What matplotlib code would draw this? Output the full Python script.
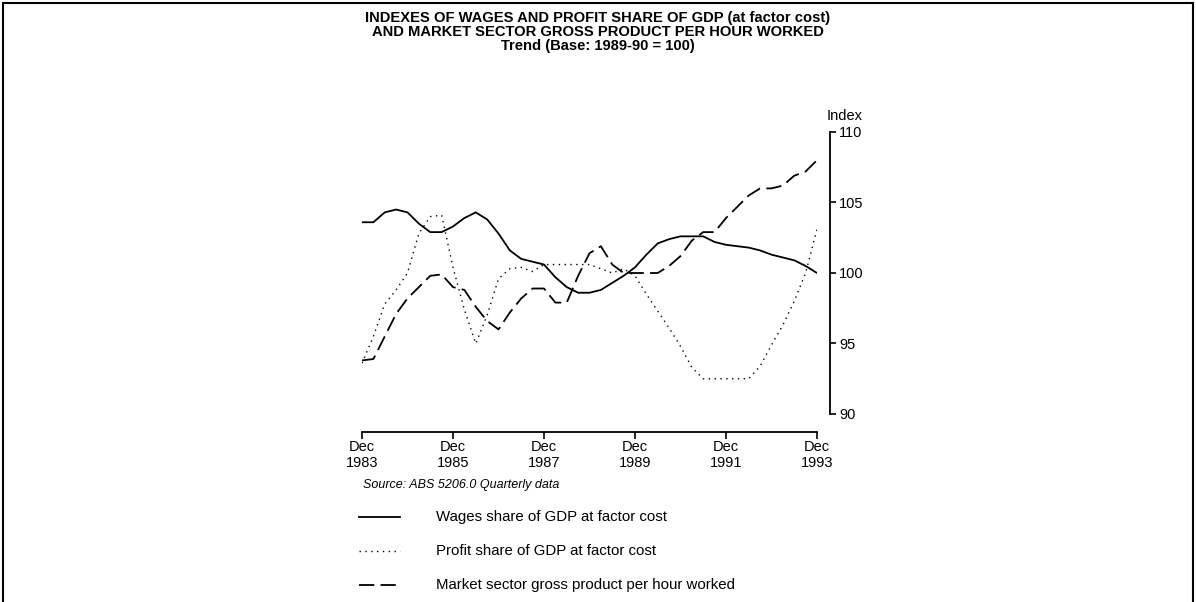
import numpy as np
import matplotlib
matplotlib.use("Agg")
import matplotlib.pyplot as plt
from matplotlib.lines import Line2D
from matplotlib.patches import Rectangle

plt.rcParams['font.family'] = ['Liberation Sans', 'DejaVu Sans']
plt.rcParams['lines.scale_dashes'] = False

# quarterly, Dec 1983 .. Dec 1993 (41 points)
quarters = np.arange(41)
tick_pos = [0, 8, 16, 24, 32, 40]
tick_labels = ['Dec\n1983', 'Dec\n1985', 'Dec\n1987', 'Dec\n1989', 'Dec\n1991', 'Dec\n1993']

wages = [103.6, 103.6, 104.3, 104.5, 104.3, 103.5, 102.9, 102.9, 103.3, 103.9,
         104.3, 103.8, 102.8, 101.6, 101.0, 100.8, 100.6, 99.7, 99.0, 98.6,
         98.6, 98.8, 99.3, 99.8, 100.4, 101.3, 102.1, 102.4, 102.6, 102.6,
         102.6, 102.2, 102.0, 101.9, 101.8, 101.6, 101.3, 101.1, 100.9, 100.5,
         100.0]
profit = [93.6, 95.5, 97.8, 98.8, 100.0, 102.8, 104.0, 104.1, 100.4, 97.4,
          95.0, 97.0, 99.6, 100.3, 100.4, 100.1, 100.6, 100.6, 100.6, 100.6,
          100.6, 100.3, 100.0, 100.3, 99.8, 98.5, 97.3, 96.1, 94.8, 93.3,
          92.5, 92.5, 92.5, 92.5, 92.5, 93.4, 94.9, 96.3, 98.0, 100.0,
          103.1]
market = [93.8, 93.9, 95.5, 97.1, 98.2, 99.0, 99.8, 99.9, 99.0, 98.8,
          97.6, 96.6, 96.0, 97.2, 98.2, 98.9, 98.9, 97.9, 97.9, 99.8,
          101.4, 101.9, 100.6, 100.0, 100.0, 100.0, 100.0, 100.5, 101.2, 102.3,
          102.9, 102.9, 103.9, 104.7, 105.5, 106.0, 106.0, 106.2, 106.9, 107.2,
          108.0]

labels = ['Wages share of GDP at factor cost',
          'Profit share of GDP at factor cost',
          'Market sector gross product per hour worked']
styles = ['-', (0, (1, 3.2)), (0, (11, 4.5))]
widths = [1.3, 1.0, 1.3]

W, H = 1196, 602
fig = plt.figure(figsize=(W / 100, H / 100), dpi=100)

# outer frame (bottom edge cut off like the scan)
fig.patches.append(Rectangle((3 / W, -0.05), 1190 / W, 1.05 - 3 / H, transform=fig.transFigure,
                             fill=False, lw=1.5, ec='black'))

ax = fig.add_axes([362 / W, 1 - 414 / H, 455 / W, 282 / H])
for y, ls, lw in zip([wages, profit, market], styles, widths):
    ax.plot(quarters, y, color='black', linestyle=ls, lw=lw)

ax.set_xlim(0, 40)
ax.set_ylim(90, 110)
ax.spines['top'].set_visible(False)
ax.spines['left'].set_visible(False)
ax.spines['right'].set_position(('outward', 9))
ax.spines['bottom'].set_position(('outward', 13))
ax.spines['right'].set_linewidth(1.3)
ax.spines['bottom'].set_linewidth(1.3)
ax.yaxis.tick_right()
ax.set_yticks([90, 95, 100, 105, 110])
ax.tick_params(axis='y', direction='out', length=4, width=1.2, pad=3, labelsize=10.5)
ax.set_xticks(tick_pos)
ax.set_xticklabels(tick_labels, linespacing=1.15)
ax.tick_params(axis='x', direction='out', length=5, width=1.2, pad=1, labelsize=10.5)
ax.set_facecolor('none')

fig.text(845 / W, 1 - 116 / H, 'Index', ha='center', va='center', fontsize=10.5)

title_lines = ['INDEXES OF WAGES AND PROFIT SHARE OF GDP (at factor cost)',
               'AND MARKET SECTOR GROSS PRODUCT PER HOUR WORKED',
               'Trend (Base: 1989-90 = 100)']
for i, t in enumerate(title_lines):
    fig.text(598 / W, 1 - (18 + 14 * i) / H, t, ha='center', va='center',
             fontsize=10.6, fontweight='bold')

fig.text(363 / W, 1 - 485 / H, 'Source: ABS 5206.0 Quarterly data', ha='left', va='center',
         fontsize=9, style='italic')

# legend
for i, (lab, ls, lw) in enumerate(zip(labels, styles, widths)):
    yy = 1 - (517 + 34 * i) / H
    fig.add_artist(Line2D([359 / W, 400 / W], [yy, yy], transform=fig.transFigure,
                          color='black', linestyle=ls, lw=lw))
    fig.text(436 / W, yy, lab, ha='left', va='center', fontsize=10.8)

fig.savefig('out.png', dpi=100)
